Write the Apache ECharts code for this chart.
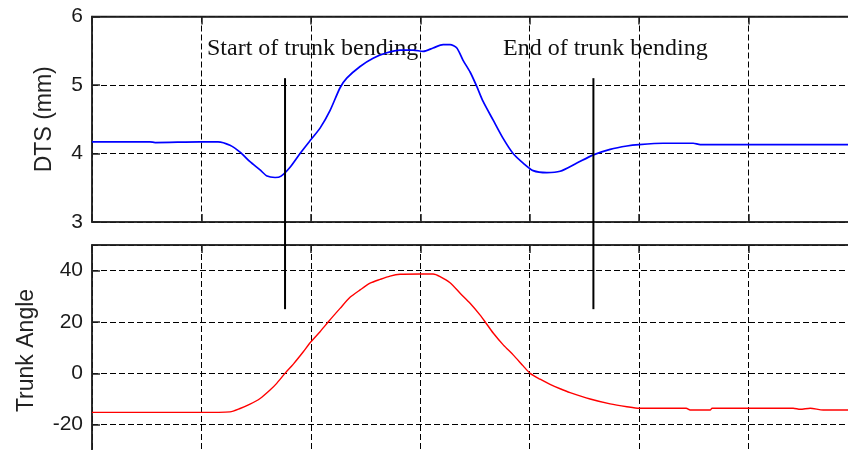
<!DOCTYPE html>
<html>
<head>
<meta charset="utf-8">
<style>
html,body{margin:0;padding:0;background:#fff;}
#chart{width:848px;height:450px;}
</style>
<script src="https://cdn.jsdelivr.net/npm/echarts@6/dist/echarts.min.js"></script>
</head>
<body>
<div id="chart"></div>
<script>
// ---- data (x in grid units; one unit per vertical grid line) ----
const dtsX = [0,0.530,0.576,0.987,1.152,1.261,1.353,1.444,1.536,1.600,1.673,1.728,1.810,1.901,1.999,2.084,2.176,2.267,2.328,2.450,2.569,2.694,2.815,2.934,3.026,3.117,3.208,3.272,3.334,3.391,3.455,3.516,3.574,3.665,3.757,3.848,3.940,4.031,4.156,4.278,4.431,4.582,4.735,4.888,4.999,5.219,5.494,5.558,6.106,6.654,7.0];
const dtsY = [4.17,4.17,4.16,4.17,4.17,4.12,4.02,3.88,3.76,3.67,3.65,3.67,3.80,4.00,4.20,4.37,4.63,4.96,5.10,5.27,5.39,5.47,5.51,5.51,5.49,5.54,5.59,5.59,5.54,5.36,5.19,4.98,4.76,4.49,4.22,4.00,3.86,3.75,3.72,3.74,3.86,3.98,4.06,4.11,4.13,4.15,4.15,4.13,4.13,4.13,4.13];
const angX = [0,0.987,1.261,1.353,1.444,1.536,1.627,1.688,1.764,1.840,1.931,1.993,2.084,2.160,2.267,2.358,2.450,2.541,2.633,2.724,2.815,2.998,3.117,3.181,3.272,3.364,3.455,3.547,3.592,3.668,3.760,3.851,3.942,4.004,4.095,4.186,4.278,4.369,4.552,4.735,4.888,4.999,5.430,5.466,5.649,5.667,6.408,6.472,6.563,6.682,7.0];
const angY = [-15.2,-15.2,-15.0,-13.7,-12.0,-9.8,-6.5,-3.9,0,3.6,8.4,11.9,16.2,20.1,25.3,29.6,32.5,35.1,36.6,37.9,38.6,38.7,38.7,37.7,35.3,31.2,27.3,22.7,20.1,15.6,11.0,7.1,2.8,0,-2.3,-4.3,-6.0,-7.5,-10.0,-11.9,-13.0,-13.6,-13.6,-14.3,-14.3,-13.6,-13.6,-14.0,-13.6,-14.3,-14.3];
const markerX = [1.764, 4.582];        // start / end of trunk bending
const markerRange = [25, 115];         // vertical extent in Trunk Angle units
const dtsTicks = {min: 3, max: 6, interval: 1};
const angTicks = {min: -40, max: 50, interval: 20};
const labels = ['Start of trunk bending', 'End of trunk bending'];
const yNames = ['DTS (mm)', 'Trunk Angle'];

const zip = (xs, ys) => xs.map((x, i) => [x, ys[i]]);

const axisColor = '#222';
const labelFont = {fontFamily: 'Liberation Sans, Arial, sans-serif', fontSize: 21, color: '#1a1a1a'};
const dashed = {show: true, lineStyle: {color: '#000', type: [6, 3], width: 1}};

function xAx(g, pos) {
  return {
    type: 'value', gridIndex: g, position: pos, min: 0, max: 7, interval: 1,
    axisLine: {show: true, onZero: false, lineStyle: {color: axisColor, width: 1.5}},
    axisTick: {show: true, inside: true, length: 8, lineStyle: {color: axisColor, width: 1.5}},
    axisLabel: {show: false},
    splitLine: pos === 'bottom' ? dashed : {show: false}
  };
}
function yAx(g, t, name, gap, pad) {
  return {
    type: 'value', gridIndex: g, min: t.min, max: t.max, interval: t.interval,
    name: name, nameLocation: 'middle', nameGap: gap, nameRotate: 90,
    nameTextStyle: {fontFamily: 'Liberation Sans, Arial, sans-serif', fontSize: 23, color: '#222', padding: pad},
    axisLine: {show: true, onZero: false, lineStyle: {color: axisColor, width: 1.5}},
    axisTick: {show: true, inside: true, length: 8, lineStyle: {color: axisColor, width: 1.5}},
    axisLabel: Object.assign({margin: 9, showMaxLabel: g === 0}, labelFont),
    splitLine: dashed
  };
}

const chart = echarts.init(document.getElementById('chart'), null, {renderer: 'canvas'});
chart.setOption({
  animation: false,
  backgroundColor: '#fff',
  grid: [
    {left: 92, top: 16.5, width: 766, height: 205.5, show: true, borderColor: axisColor, borderWidth: 1.5,
     containLabel: false, outerBoundsMode: 'none'},
    {left: 92, top: 245, width: 766, height: 231, show: true, borderColor: axisColor, borderWidth: 1.5,
     containLabel: false, outerBoundsMode: 'none'}
  ],
  xAxis: [xAx(0, 'bottom'), xAx(0, 'top'), xAx(1, 'bottom'), xAx(1, 'top')],
  yAxis: [yAx(0, dtsTicks, yNames[0], 36, 0), yAx(1, angTicks, yNames[1], 54, [0, 0, 0, 20])],
  graphic: [
    {type: 'text', x: 207, y: 49, style: {text: labels[0], fontFamily: 'Liberation Serif, Times New Roman, serif', fontSize: 24, fill: '#111', verticalAlign: 'middle'}},
    {type: 'text', x: 503, y: 49, style: {text: labels[1], fontFamily: 'Liberation Serif, Times New Roman, serif', fontSize: 24, fill: '#111', verticalAlign: 'middle'}}
  ],
  series: [
    {type: 'line', xAxisIndex: 0, yAxisIndex: 0, data: zip(dtsX, dtsY), showSymbol: false, smooth: 0.25,
     lineStyle: {color: '#0000ff', width: 1.7}},
    {type: 'line', xAxisIndex: 2, yAxisIndex: 1, data: zip(angX, angY), showSymbol: false, smooth: 0.25,
     lineStyle: {color: '#ff0000', width: 1.4}},
    ...markerX.map(x => ({
      type: 'line', xAxisIndex: 2, yAxisIndex: 1, clip: false, showSymbol: false, z: 5,
      data: markerRange.map(v => [x, v]),
      lineStyle: {color: '#000', width: 2}
    }))
  ]
});
</script>
</body>
</html>
